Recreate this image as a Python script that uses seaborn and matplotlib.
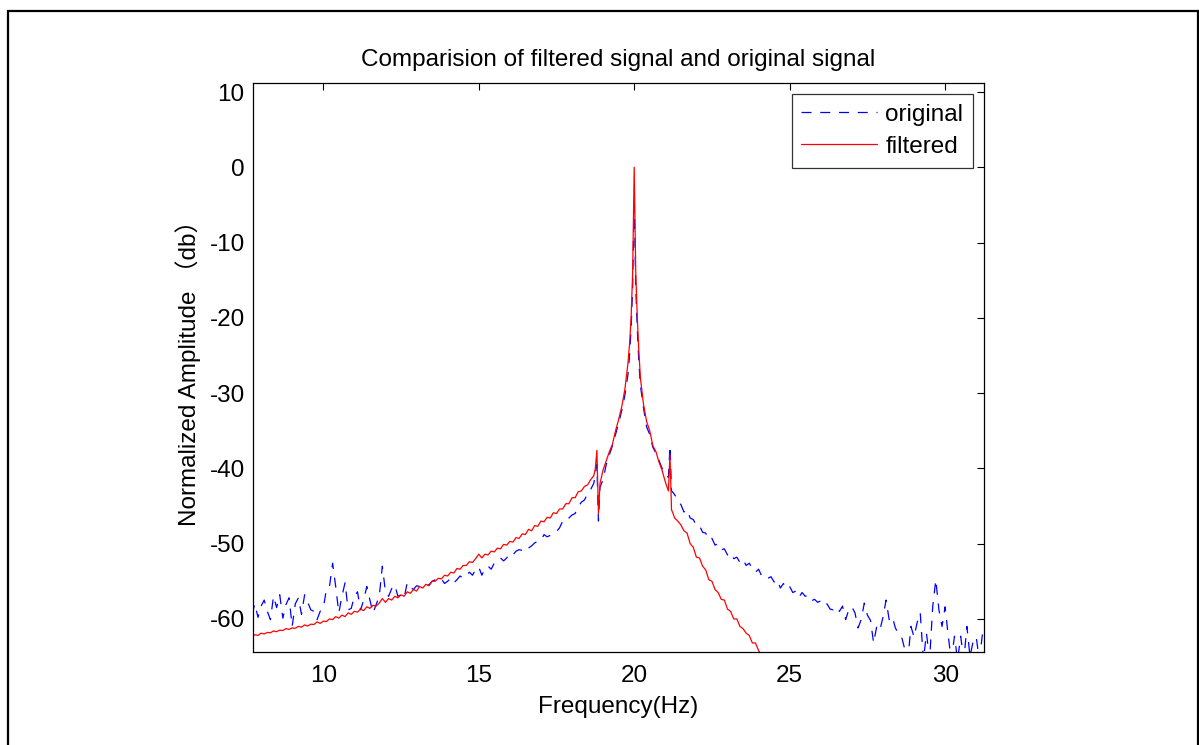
import numpy as np
import pandas as pd
import seaborn as sns
import matplotlib
matplotlib.use("Agg")
import matplotlib.pyplot as plt
from matplotlib.patches import Rectangle

# ---------------- data ----------------
freq_low = np.round(np.arange(7.7, 18.65, 0.1), 2)          # 7.7 .. 18.6
freq_peak = [18.7, 18.75, 18.8, 18.85, 18.9, 19.0, 19.1, 19.2, 19.3, 19.4,
             19.5, 19.6, 19.7, 19.8, 19.85, 19.9, 19.95, 20.0, 20.05, 20.1,
             20.15, 20.2, 20.3, 20.4, 20.5, 20.6, 20.7, 20.8, 20.9, 21.0,
             21.1, 21.15, 21.2, 21.25, 21.3, 21.4]
freq_high = np.round(np.arange(21.5, 31.35, 0.1), 2)        # 21.5 .. 31.3

original_low = [
    -59.5, -58.0, -59.8, -58.3, -57.5, -59.0, -60.1, -57.0, -58.5, -56.8,
    -59.9, -58.1, -57.2, -61.0, -58.0, -57.2, -59.4, -56.8, -57.8, -58.8,
    -59.0, -60.1, -59.0, -58.6, -56.1, -55.7, -52.6, -55.7, -59.2, -57.0,
    -55.2, -58.8, -58.6, -57.0, -56.4, -58.8, -57.5, -55.7, -57.5, -59.2,
    -58.1, -57.0, -53.0, -56.4, -57.0, -56.0, -55.5, -57.0, -56.8, -57.2,
    -55.2, -55.8, -56.1, -55.6, -55.7, -55.7, -55.4, -55.5, -55.0, -54.8,
    -55.0, -54.7, -55.3, -55.0, -54.6, -55.2, -54.8, -54.3, -54.6, -54.2,
    -53.8, -54.2, -53.4, -53.1, -54.2, -53.3, -53.0, -53.4, -52.6, -52.2,
    -51.9, -52.3, -51.9, -51.3, -51.5, -51.0, -50.8, -50.9, -50.4, -50.6,
    -50.3, -49.9, -49.7, -49.6, -48.8, -49.1, -48.9, -48.5, -48.4, -47.9,
    -47.0, -47.1, -46.6, -46.2, -46.0, -45.1, -44.5, -44.2, -43.4, -42.8]
original_peak = [
    -42.0, -40.8, -39.5, -47.0, -42.5, -41.5, -39.5, -38.2, -37.0, -35.5,
    -34.0, -32.3, -30.3, -27.5, -25.0, -21.5, -16.0, -4.0, -16.0, -21.5,
    -26.0, -29.0, -32.0, -34.5, -35.5, -37.2, -38.0, -39.0, -40.0, -40.6,
    -41.2, -37.0, -43.0, -43.2, -43.5, -44.2]
original_high = [
    -44.8, -45.8, -45.5, -46.6, -46.8, -47.6, -47.6, -48.5, -48.6, -49.5,
    -49.3, -50.2, -50.0, -50.8, -50.7, -51.5, -51.2, -52.0, -51.8, -52.5,
    -52.1, -52.9, -52.6, -53.3, -53.8, -53.4, -54.3, -54.2, -54.6, -54.4,
    -55.1, -54.8, -55.9, -55.3, -56.0, -55.7, -56.5, -56.3, -57.1, -56.5,
    -57.0, -56.9, -57.6, -57.4, -57.8, -57.6, -58.2, -58.0, -58.7, -58.8,
    -58.4, -59.0, -58.3, -60.1, -58.8, -58.4, -59.2, -61.2, -60.1, -57.9,
    -59.5, -60.2, -63.2, -61.0, -61.5, -59.8, -57.5, -60.1, -59.7, -61.2,
    -62.0, -62.4, -64.0, -65.5, -61.0, -62.4, -60.5, -59.2, -65.5, -61.9,
    -65.5, -58.4, -54.8, -58.8, -61.0, -58.4, -62.3, -65.5, -62.3, -65.5,
    -62.3, -65.5, -61.0, -65.0, -63.0, -62.4, -65.5, -62.0, -63.0]

filtered_low = [
    -62.3, -62.1, -62.2, -61.9, -62.0, -61.8, -61.85, -61.6, -61.7, -61.5,
    -61.55, -61.3, -61.4, -61.2, -61.25, -61.0, -61.1, -60.8, -60.95, -60.7,
    -60.75, -60.4, -60.6, -60.3, -60.35, -60.0, -60.1, -59.7, -59.9, -59.5,
    -59.7, -59.2, -59.4, -59.0, -59.1, -58.7, -58.9, -58.4, -58.6, -58.2,
    -58.3, -57.9, -57.3, -57.8, -57.3, -57.5, -57.0, -57.2, -56.8, -57.0,
    -56.4, -56.6, -56.1, -56.3, -55.7, -55.9, -55.4, -55.6, -55.0, -55.0,
    -54.6, -54.7, -54.2, -54.3, -53.8, -53.9, -53.3, -53.4, -52.9, -52.9,
    -52.4, -52.5, -52.0, -51.4, -51.9, -51.4, -51.5, -51.0, -51.1, -50.6,
    -50.7, -50.1, -50.2, -49.7, -49.8, -49.2, -49.3, -48.7, -48.8, -48.1,
    -48.3, -47.6, -47.7, -47.0, -47.1, -46.5, -46.6, -45.9, -46.0, -45.4,
    -45.4, -44.7, -44.7, -43.9, -43.9, -43.1, -43.0, -42.4, -42.2, -41.5]
filtered_peak = [
    -41.0, -40.0, -37.6, -46.0, -42.0, -40.2, -39.0, -37.8, -36.8, -35.0,
    -33.5, -31.8, -29.5, -26.0, -23.5, -20.0, -14.0, 0.0, -14.0, -20.0,
    -24.5, -28.0, -31.5, -33.8, -35.0, -37.0, -37.8, -39.2, -40.3, -41.8,
    -43.0, -38.2, -45.5, -46.0, -46.6, -47.0]
filtered_high = [
    -47.5, -48.3, -48.6, -50.0, -50.5, -51.8, -51.9, -53.0, -53.5, -54.8,
    -55.0, -56.1, -56.5, -57.4, -57.5, -58.7, -59.0, -60.0, -60.0, -61.0,
    -61.3, -61.9, -62.2, -63.2, -63.2, -64.2, -65.0, -66.0]

x_ticks = [10, 15, 20, 25, 30]
y_ticks = [-60, -50, -40, -30, -20, -10, 0, 10]
title = "Comparision of filtered signal and original signal"
xlabel = "Frequency(Hz)"
ylabel = "Normalized Amplitude （db）"

# ---------------- assemble ----------------
freq = np.concatenate([freq_low, freq_peak, freq_high])
original = np.concatenate([original_low, original_peak, original_high])
filtered = np.concatenate([filtered_low, filtered_peak, filtered_high])
df_orig = pd.DataFrame({"f": freq, "amp": original})
df_filt = pd.DataFrame({"f": freq[:len(filtered)], "amp": filtered})

# ---------------- style ----------------
sns.set_style("white")
plt.rcParams["font.family"] = ["Liberation Sans", "Noto Sans CJK SC", "DejaVu Sans"]
plt.rcParams["axes.unicode_minus"] = False
plt.rcParams["text.color"] = "black"
plt.rcParams["axes.labelcolor"] = "black"
FS = 17.5

fig = plt.figure(figsize=(11.99, 7.45), dpi=100)
ax = fig.add_axes([253 / 1199, 1 - 652 / 745, (984 - 253) / 1199, (652 - 83) / 745])

sns.lineplot(data=df_orig, x="f", y="amp", ax=ax, color="#0000ff", lw=0.9,
             label="original", estimator=None, sort=False)
ax.lines[-1].set_dashes([8, 7])
sns.lineplot(data=df_filt, x="f", y="amp", ax=ax, color="#ff0000", lw=0.9,
             label="filtered", estimator=None, sort=False)

ax.set_xlim(7.74, 31.25)
ax.set_ylim(-64.4, 11.2)
ax.set_xticks(x_ticks)
ax.set_yticks(y_ticks)
ax.tick_params(direction="in", length=5, width=0.8, top=True, right=True,
               labelsize=FS, colors="black")
ax.tick_params(axis="x", pad=9)
ax.tick_params(axis="y", pad=6)
for s in ax.spines.values():
    s.set_visible(True)
    s.set_color("black")
    s.set_linewidth(0.9)

ax.set_title(title, fontsize=FS, pad=12, color="black")
ax.set_xlabel(xlabel, fontsize=FS, labelpad=7)
ax.set_ylabel(ylabel, fontsize=FS, labelpad=6)

leg = ax.legend(loc="upper right", fontsize=FS, frameon=True, fancybox=False,
                handlelength=3.1, borderaxespad=0.45, borderpad=0.4,
                labelspacing=0.42, handletextpad=0.35)
leg.get_frame().set_edgecolor("black")
leg.get_frame().set_linewidth(0.9)
for t in leg.get_texts():
    t.set_color("black")
leg.get_lines()[0].set_dashes([8, 7])

# figure border
fig.patches.append(Rectangle((7.5 / 1199, -0.02), (1197.5 - 7.5) / 1199,
                             1.02 - 10.5 / 745, transform=fig.transFigure,
                             fill=False, edgecolor="black", linewidth=1.6))

fig.savefig("out.png", dpi=100, facecolor="white")
